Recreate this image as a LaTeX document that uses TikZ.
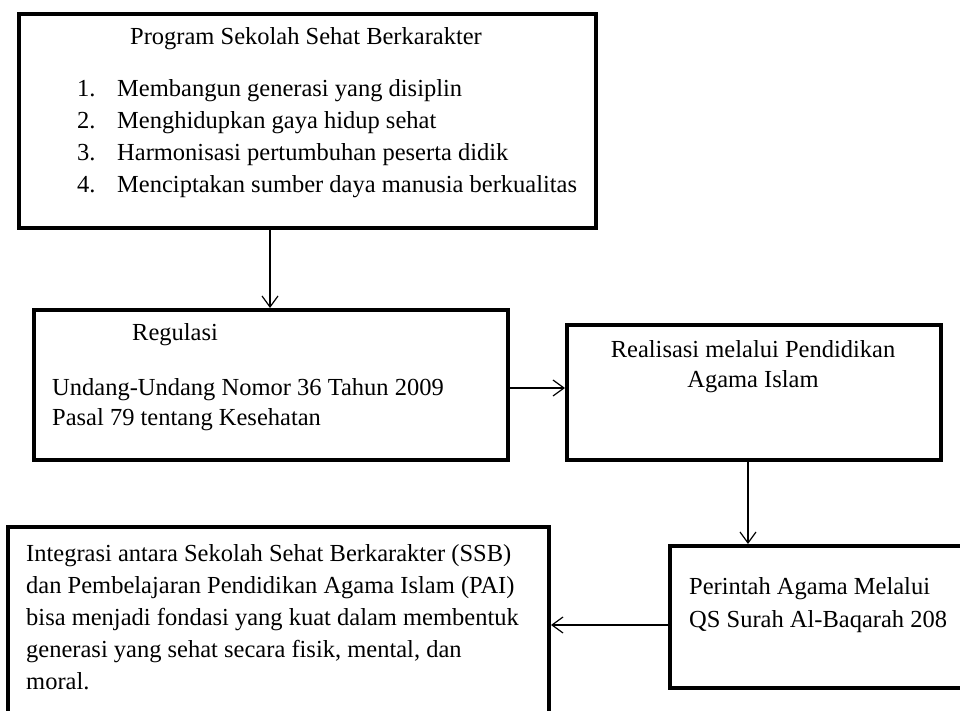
\documentclass[tikz,border=0pt]{standalone}
\usepackage{fontspec}
\setmainfont{Liberation Serif}
\usetikzlibrary{arrows.meta}
\begin{document}
\begin{tikzpicture}[x=1pt,y=-1pt,
  box/.style={draw, line width=4pt, inner sep=0pt, outer sep=2pt},
  txt/.style={anchor=base west, inner sep=0pt, font=\fontsize{24.5}{32}\selectfont},
  ctxt/.style={txt, anchor=base},
  arr/.style={line width=1.2pt, -{Straight Barb[length=11pt,width=16pt,line width=1.2pt]}}]
\useasboundingbox (0,0) rectangle (960,711);
\clip (0,0) rectangle (960,711);
% boxes
\node[box, minimum width=577pt, minimum height=214pt] (b1) at (307.5,121) {};
\node[box, minimum width=474pt, minimum height=150pt] (b2) at (271,385) {};
\node[box, minimum width=374pt, minimum height=135pt] (b3) at (754,392.5) {};
\node[box, minimum width=295pt, minimum height=142pt] (b4) at (817.5,617) {};
\node[box, minimum width=541pt, minimum height=203pt] (b5) at (278.5,628.5) {};
% texts
\node[ctxt] (t1) at (306,45) {Program Sekolah Sehat Berkarakter};
\node[txt] (t1l) at (77,97) {\vtop{\baselineskip=32pt
  \hbox{\makebox[40pt][l]{1.}Membangun generasi yang disiplin}
  \hbox{\makebox[40pt][l]{2.}Menghidupkan gaya hidup sehat}
  \hbox{\makebox[40pt][l]{3.}Harmonisasi pertumbuhan peserta didik}
  \hbox{\makebox[40pt][l]{4.}Menciptakan sumber daya manusia berkualitas}}};
\node[txt] (t2) at (132,340) {Regulasi};
\node[txt] (t2b) at (52,395) {\vtop{\baselineskip=30pt
  \hbox{Undang-Undang Nomor 36 Tahun 2009}
  \hbox{Pasal 79 tentang Kesehatan}}};
\node[ctxt] (t3) at (753,357) {\vtop{\baselineskip=30pt
  \halign{\hfil#\hfil\cr Realisasi melalui Pendidikan\cr Agama Islam\cr}}};
\node[txt] (t4) at (689,594) {\vtop{\baselineskip=33pt
  \hbox{Perintah Agama Melalui}
  \hbox{QS Surah Al-Baqarah 208}}};
\node[txt] (t5) at (26,561) {\vtop{\baselineskip=32pt
  \hbox{Integrasi antara Sekolah Sehat Berkarakter (SSB)}
  \hbox{dan Pembelajaran Pendidikan Agama Islam (PAI)}
  \hbox{bisa menjadi fondasi yang kuat dalam membentuk}
  \hbox{generasi yang sehat secara fisik, mental, dan}
  \hbox{moral.}}};
% connectors
\coordinate (a1) at (270,0);
\coordinate (a2) at (0,388);
\coordinate (a3) at (748,0);
\coordinate (a4) at (0,625);
\draw[arr] (b1.south -| a1) -- (b2.north -| a1);
\draw[arr] (b2.east |- a2) -- (b3.west |- a2);
\draw[arr] (b3.south -| a3) -- (b4.north -| a3);
\draw[arr] (b4.west |- a4) -- (b5.east |- a4);
\end{tikzpicture}
\end{document}
